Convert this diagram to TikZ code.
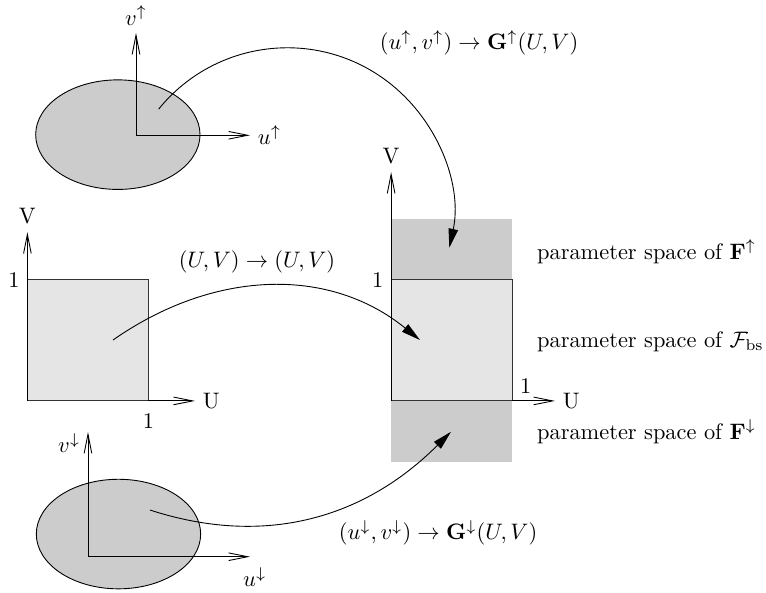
\documentclass[tikz,border=0pt]{standalone}
\usepackage{amsmath}
\usetikzlibrary{arrows.meta}

\tikzset{
  axis/.style={-{Straight Barb[length=3mm,width=1.2mm]}},
  maparrow/.style={-{Triangle[length=3mm,width=1.5mm]}},
  spacelabel/.style={anchor=west, inner sep=0pt}
}

\begin{document}
\begin{tikzpicture}
  \useasboundingbox (0,0) rectangle (12.025,9.294);

  % upper domain
  \fill[black!20] (1.85,7.18) ellipse (1.29 and 0.86);
  \draw (1.85,7.18) ellipse (1.29 and 0.86);
  \coordinate (oup) at (2.135,7.17);
  \draw[axis] (oup) -- (2.135,8.776) node[above] (vup) {$v^{\uparrow}$};
  \draw[axis] (oup) -- (3.925,7.17) node[right] (uup) {$u^{\uparrow}$};

  % lower domain
  \fill[black!20] (1.86,0.91) ellipse (1.29 and 0.86);
  \draw (1.86,0.91) ellipse (1.29 and 0.86);
  \coordinate (odn) at (1.381,0.554);
  \draw[axis] (odn) -- (1.381,2.512);
  \draw[axis] (odn) -- (3.925,0.554);
  \node[left] (vdn) at (1.381,2.34) {$v^{\downarrow}$};
  \node (udn) at (4.0,0.24) {$u^{\downarrow}$};

  % unit square (U,V)
  \coordinate (oleft) at (0.43,3.0);
  \fill[black!10] (oleft) rectangle (2.33,4.9);
  \draw[black!80] (oleft) rectangle (2.33,4.9);
  \draw[axis] (oleft) -- (0.43,5.65) node[above] (Vleft) {V};
  \draw[axis] (2.33,3.0) -- (3.06,3.0) node[right] (Uleft) {U};
  \node[left] (oneVleft) at (0.43,4.9) {1};
  \node[below, yshift=-2pt] (oneUleft) at (2.33,3.0) {1};

  % combined parameter space
  \coordinate (oright) at (6.14,3.0);
  \fill[black!20] (6.14,2.046) rectangle (8.04,5.856);
  \fill[black!10] (oright) rectangle (8.04,4.9);
  \draw[black!80] (oright) rectangle (8.04,4.9);
  \draw[axis] (oright) -- (6.14,6.593) node[above] (Vright) {V};
  \draw[axis] (8.04,3.0) -- (8.713,3.0) node[right] (Uright) {U};
  \node[left] (oneVright) at (6.14,4.9) {1};
  \node[above right] (oneUright) at (8.04,3.0) {1};

  \node[spacelabel] (Fup) at (8.425,5.342) {parameter space of $\mathbf{F}^{\uparrow}$};
  \node[spacelabel] (Fbs) at (8.425,3.93) {parameter space of $\mathcal{F}_{\mathrm{bs}}$};
  \node[spacelabel] (Fdn) at (8.425,2.516) {parameter space of $\mathbf{F}^{\downarrow}$};

  % mappings
  \coordinate (sup) at (2.49,7.58);
  \draw[maparrow] (sup) arc[start angle=141, end angle=-12, radius=2.6];
  \node (Gup) at (7.52,8.62) {$(u^{\uparrow},v^{\uparrow}) \rightarrow \mathbf{G}^{\uparrow}(U,V)$};

  \coordinate (smid) at (1.774,3.956);
  \coordinate (tmid) at (6.593,3.956);
  \draw[maparrow] (smid) to[out=35, in=141] (tmid);
  \node (Id) at (4.035,5.18) {$(U,V) \rightarrow (U,V)$};

  \coordinate (sdn) at (2.355,1.287);
  \coordinate (tdn) at (7.08,2.516);
  \draw[maparrow] (sdn) to[out=-18, in=-135] (tdn);
  \node (Gdn) at (6.876,0.926) {$(u^{\downarrow},v^{\downarrow}) \rightarrow \mathbf{G}^{\downarrow}(U,V)$};
\end{tikzpicture}
\end{document}
